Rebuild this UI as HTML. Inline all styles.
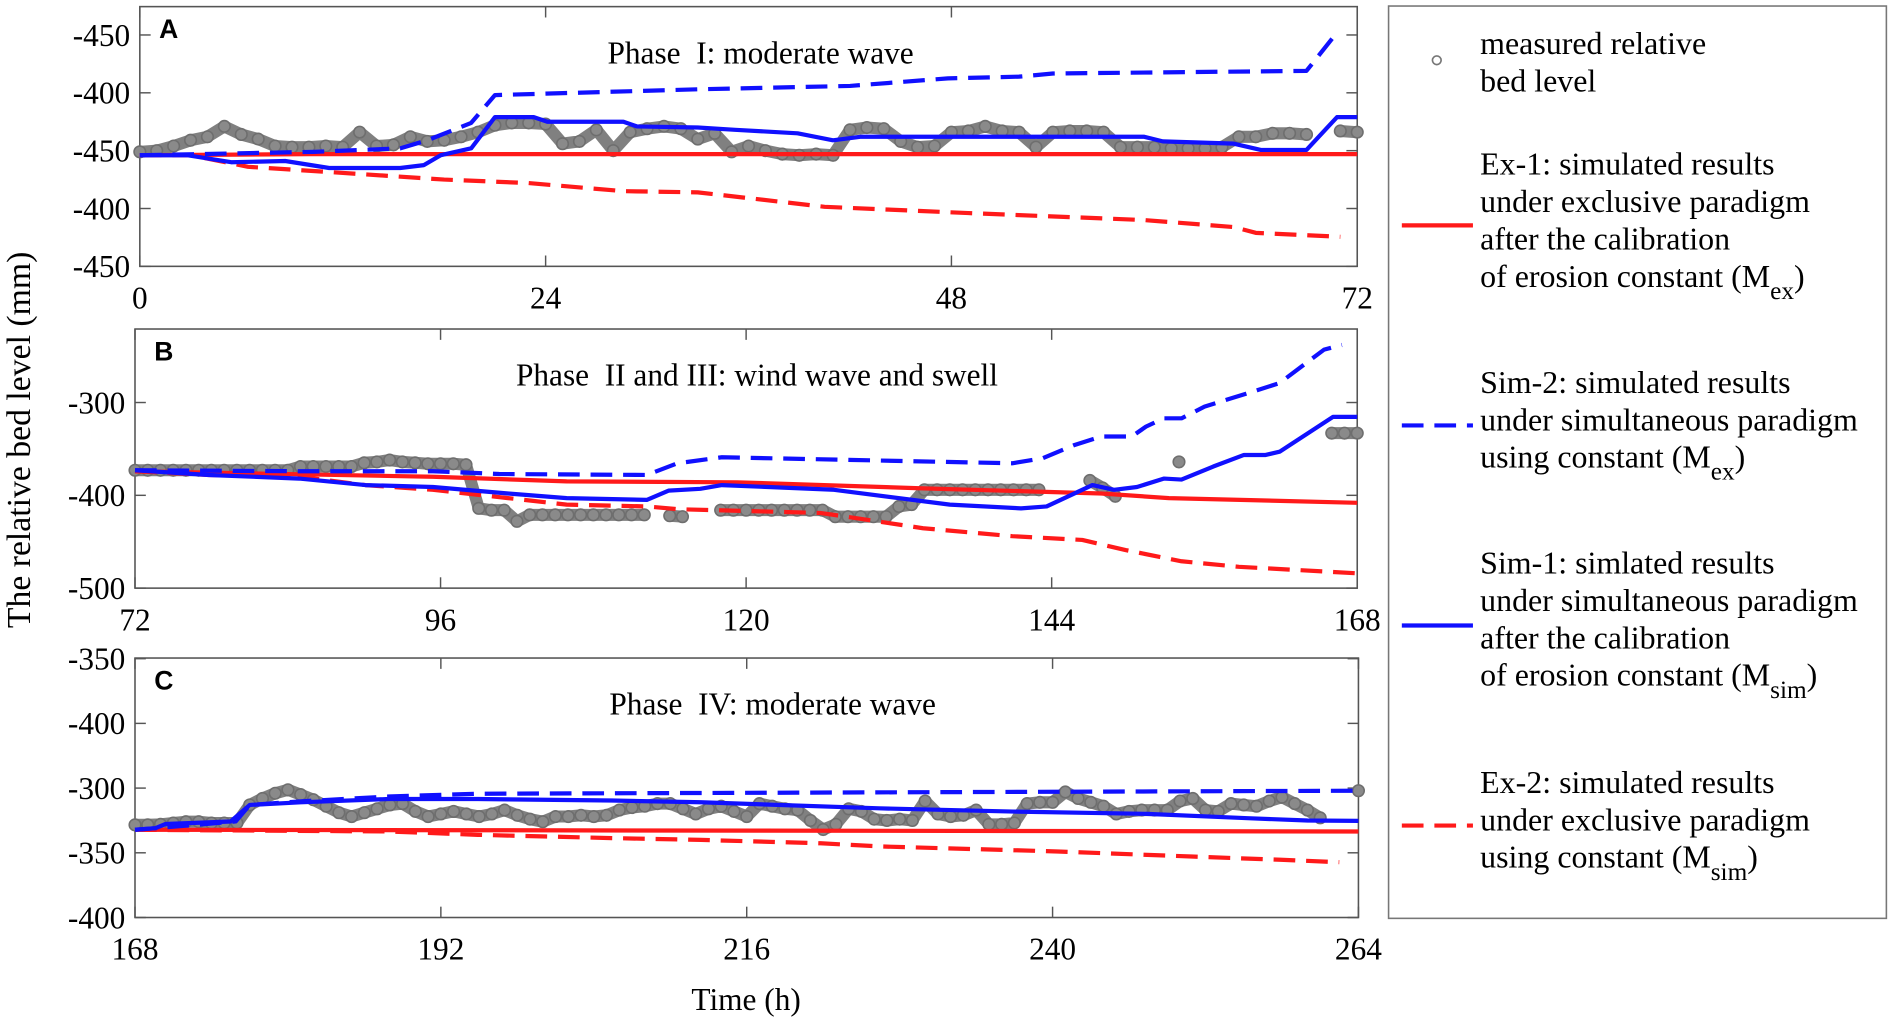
<!DOCTYPE html>
<html><head><meta charset="utf-8">
<style>
html,body{margin:0;padding:0;background:#fff;}
svg{display:block;font-family:"Liberation Serif",serif;}
</style></head>
<body>
<svg id="chart" xmlns="http://www.w3.org/2000/svg" width="1890" height="1022" viewBox="0 0 1568 848" preserveAspectRatio="none">
<text x="0" y="0" transform="translate(25,365) rotate(-90)" text-anchor="middle" font-size="28">The relative bed level (mm)</text>
<text x="619" y="838" text-anchor="middle" font-size="26">Time (h)</text>
<g font-size="26.5">
<rect x="1152" y="5" width="413" height="757" fill="#fff" stroke="#777" stroke-width="1.3"/>
<circle cx="1192" cy="50" r="3.6" fill="none" stroke="#777" stroke-width="1.4"/>
<text x="1228" y="45">measured relative</text>
<text x="1228" y="76">bed level</text>
<line x1="1163" y1="187" x2="1222" y2="187" stroke="#ff1a1a" stroke-width="3.5"/>
<text x="1228" y="145">Ex-1: simulated results</text>
<text x="1228" y="176">under exclusive paradigm</text>
<text x="1228" y="207">after the calibration</text>
<text x="1228" y="238">of erosion constant (M<tspan dy="10" font-size="21">ex</tspan><tspan dy="-10">)</tspan></text>
<line x1="1163" y1="353" x2="1222" y2="353" stroke="#1010ff" stroke-width="3.5" stroke-dasharray="18,9"/>
<text x="1228" y="326">Sim-2: simulated results</text>
<text x="1228" y="357">under simultaneous paradigm</text>
<text x="1228" y="388">using constant (M<tspan dy="10" font-size="21">ex</tspan><tspan dy="-10">)</tspan></text>
<line x1="1163" y1="519" x2="1222" y2="519" stroke="#1010ff" stroke-width="3.5"/>
<text x="1228" y="476">Sim-1: simlated results</text>
<text x="1228" y="507">under simultaneous paradigm</text>
<text x="1228" y="538">after the calibration</text>
<text x="1228" y="569">of erosion constant (M<tspan dy="10" font-size="21">sim</tspan><tspan dy="-10">)</tspan></text>
<line x1="1163" y1="685" x2="1222" y2="685" stroke="#ff1a1a" stroke-width="3.5" stroke-dasharray="18,9"/>
<text x="1228" y="658">Ex-2: simulated results</text>
<text x="1228" y="689">under exclusive paradigm</text>
<text x="1228" y="720">using constant (M<tspan dy="10" font-size="21">sim</tspan><tspan dy="-10">)</tspan></text>
</g>
</svg>
<script>
// ---------- Panel A data (relative units, tick labels garbled in source) ----------
const aXTicks = [0, 24, 48, 72];
const aYTicks = [0, 50, 100, 150, 200];
const aYTickLabels = ['-450', '-400', '-450', '-400', '-450'];
const aMeasuredV = [99,100,104,109,112,121,114,110,104,103,103,104,103,116,104,105,112,108,109,112,116,122,124,124,123,106,108,118,100,116,119,121,119,110,115,99,104,100,97,96,97,96,118,120,119,108,103,104,116,117,121,117,116,103,116,117,117,116,103,103,103,102,102,102,103,112,112,115,115,114,null,117,116];
const aRedSolidT = [0, 10, 72];
const aRedSolidV = [96, 97, 97];
const aRedDashT = [0,3,6.4,12.8,18,23,28.6,33,40.5,49,59.4,64.7,66,71];
const aRedDashV = [96,96,86,80,75,72,65,64,51.5,46,40,34,29,25.5];
const aBlueDashT = [0,10.3,15.4,17,19.6,21,33,42,47.8,52,54,69,70.6,71];
const aBlueDashV = [96,99,102,109,124,148,153,156,162.5,164,166.7,169,198.5,201];
const aBlueSolidT = [0,2.8,5.4,8.6,11.2,15.4,16.8,17.8,19.6,21,23.3,24.1,28.6,29.4,33,35.2,38.9,41,42.6,46.8,59.4,60.5,64.7,66.3,69,70.8,72];
const aBlueSolidV = [96,96,90,91,85,85,87.5,96,102,129,129,125,125,121,120,118,115,109,112,112,112,108,106,100.6,100.6,129,129];

// ---------- Panel B data (mm) ----------
const bXTicks = [72, 96, 120, 144, 168];
const bYTicks = [-300, -400, -500];
const bYTickLabels = ['-300', '-400', '-500'];
const bMeasuredV = [-373,-373,-373,-373,-373,-373,-373,-373,-373,-373,-373,-373,-373,
 -369,-369,-369,-369,-369, -365,-364,-362,-364,-365, -366,-366,-366,-367,
 -414,-416,-416,-428, -421,-421,-421,-421,-421,-421,-421,-421,-421,-421,
 null,-422,-423,null,null, -416,-416,-416,-416,-416,-416,-416,-416,-416,
 -423,-423,-423,-423,-423, -412,-410, -394,-394,-394,-394,-394,-394,-394,-394,-394,-394,
 null,null,null, -384,-392,-401, null,null,null,null, -364,
 null,null,null,null,null,null,null,null,null,null,null, -333,-333,-333];
const bRedSolidT = [72,95.4,105.9,119.3,133.9,147.9,153.2,168];
const bRedSolidV = [-374,-380,-385,-386,-392.5,-398,-403,-408];
const bBlueDashT = [72,84.9,95.4,100.6,112.2,114.6,118.1,140.9,143.3,145.8,147.9,150.3,151.4,152.8,154.2,156,160.2,161.9,165.4,166.8];
const bBlueDashV = [-373,-374,-374,-377,-378,-365.5,-359,-365.5,-360,-345.7,-336.7,-336.7,-326,-317,-317,-304.4,-286.5,-279,-243,-238];
const bBlueSolidT = [72,77.8,84.9,90.1,95.4,101.3,105.9,112.2,113.9,116.4,118.1,126.9,136,141.6,143.6,147.2,148.9,150.7,152.8,154.2,156.7,159.1,160.8,161.9,166.1,168];
const bBlueSolidV = [-373,-378,-382,-389,-391,-398,-403,-405,-395,-393,-389,-394,-410,-414,-412,-389,-394,-391,-382,-383,-369,-356.5,-356.5,-353,-315.5,-315.5];
const bRedDashT = [72,77.8,84.9,90.1,95.4,101.3,105.9,112.2,114.6,125.8,126.9,133.9,140.9,146.4,149.8,154.2,158.7,168];
const bRedDashV = [-374,-378,-380,-389,-394,-403,-410,-412,-415,-419,-421,-435.5,-444,-448,-459,-471,-477,-484];

// ---------- Panel C data (relative units) ----------
const cXTicks = [168, 192, 216, 240, 264];
const cYTicks = [0, 50, 100, 150, 200];
const cYTickLabels = ['-400', '-350', '-300', '-400', '-350'];
const cMeasuredV = [71.6,71.6,72,73,74,74,73,73,73,87,92,96,98.7,95,91,86,81,78,81,84,87,88,82,78,80,82,80,78,80,83,79,76,74,78,78,79,78,79,83,85,86,88,88,84,80,84,86,82,78,88,86,84,83,75,68,72,84,82,76,75,76,75,90,80,78,79,83,72,72,73,88,89,89,97,92,89,86,80,82,83,83,83,90,92,83,82,88,87,86,90,93,88,83,77,null,null,98];
const cRedSolidT = [168, 264];
const cRedSolidV = [67.8, 66.5];
const cRedDashT = [168,187.9,194.9,205.4,212.4,221.8,226.4,240.4,250.9,257.9,262.5];
const cRedDashV = [67.8,66.5,63.9,61.4,60,57.4,54.9,51,47.1,44.6,42.7];
const cBlueDashT = [168,169.6,175.9,177,180.9,187.9,194.9,264];
const cBlueDashV = [67.8,69,74.2,87,89.7,93.5,95.6,98];
const cBlueSolidT = [168,169.6,170.4,175.5,177,181,187.9,194.9,205.4,212.4,226.4,236.9,247.4,255.3,260,264];
const cBlueSolidV = [67.8,69,72.3,74.2,87,89,91.5,91.5,90.4,89,84.4,81.9,80.1,76.7,75,74.7];

const NS = 'http://www.w3.org/2000/svg';
const svg = document.getElementById('chart');
const RED = '#ff1a1a', BLUE = '#1010ff', GRAY = '#808080';

function mk(tag, attrs, parent) {
  const e = document.createElementNS(NS, tag);
  for (const k in attrs) e.setAttribute(k, attrs[k]);
  parent.appendChild(e);
  return e;
}

function drawPanel(p) {
  const g = mk('g', {}, svg);
  
  
  const sx = t => p.x0 + (t - p.tMin) / (p.tMax - p.tMin) * (p.x1 - p.x0);
  const sy = v => p.y1 - (v - p.vMin) / (p.vMax - p.vMin) * (p.y1 - p.y0);

  const box = mk('rect', {x: p.x0, y: p.y0, width: p.x1 - p.x0, height: p.y1 - p.y0, fill: '#fff', stroke: '#555', 'stroke-width': 1.3}, g);
  
  

  p.xTicks.forEach(t => {
    const x = sx(t);
    mk('line', {x1: x, y1: p.y1, x2: x, y2: p.y1 - 9, stroke: '#555', 'stroke-width': 1.2}, g);
    mk('line', {x1: x, y1: p.y0, x2: x, y2: p.y0 + 9, stroke: '#555', 'stroke-width': 1.2}, g);
    const tx = mk('text', {x: x, y: p.y1 + 35, 'text-anchor': 'middle', 'font-size': 26}, g);
    
    
    tx.textContent = String(t);
  });
  p.yTicks.forEach((v, i) => {
    const y = sy(v);
    mk('line', {x1: p.x0, y1: y, x2: p.x0 + 9, y2: y, stroke: '#555', 'stroke-width': 1.2}, g);
    mk('line', {x1: p.x1, y1: y, x2: p.x1 - 9, y2: y, stroke: '#555', 'stroke-width': 1.2}, g);
    const ty = mk('text', {x: p.x0 - 8, y: y + 9, 'text-anchor': 'end', 'font-size': 26}, g);
    
    
    ty.textContent = p.yLabels[i];
  });

  const mg = mk('g', {}, g);
  
  
  let seg = [];
  const flush = () => {
    if (seg.length > 1) mk('polyline', {points: seg.join(' '), fill: 'none', stroke: GRAY, 'stroke-width': 10, 'stroke-linejoin': 'round', 'stroke-linecap': 'round'}, mg);
    seg = [];
  };
  p.measured.forEach((v, i) => {
    if (v === null) { flush(); return; }
    seg.push(sx(p.tMin + i).toFixed(1) + ',' + sy(v).toFixed(1));
  });
  flush();
  p.measured.forEach((v, i) => {
    if (v === null) return;
    const c = mk('circle', {cx: sx(p.tMin + i), cy: sy(v), r: 4.8, fill: '#8a8a8a', stroke: '#6e6e6e', 'stroke-width': 1.3}, mg);
    
    
  });

  p.lines.forEach(L => {
    const pts = L.t.map((t, i) => sx(t).toFixed(1) + ',' + sy(L.v[i]).toFixed(1)).join(' ');
    const pl = mk('polyline', {points: pts, fill: 'none', stroke: L.color, 'stroke-width': 3.5, 'stroke-linejoin': 'round'}, g);
    if (L.dash) pl.setAttribute('stroke-dasharray', '18,9');
    
    
  });

  const lt = mk('text', {x: p.x0 + 16, y: p.y0 + 26, 'font-size': 22, 'font-weight': 'bold', 'font-family': '"Liberation Sans",sans-serif'}, g);
  
  
  lt.textContent = p.letter;
  const tt = mk('text', {x: p.titleX, y: p.y0 + 47, 'text-anchor': 'middle', 'font-size': 26}, g);
  
  
  tt.textContent = p.title;
}

drawPanel({id: 'a', letter: 'A', title: 'Phase\u00a0\u00a0I: moderate wave', titleX: 631,
  x0: 116, x1: 1126, y0: 5.5, y1: 221, tMin: 0, tMax: 72, vMin: 0, vMax: 224.5,
  xTicks: aXTicks, yTicks: aYTicks, yLabels: aYTickLabels, measured: aMeasuredV,
  lines: [
    {name: 'ex1-line', t: aRedSolidT, v: aRedSolidV, color: RED, dash: false},
    {name: 'ex2-line', t: aRedDashT, v: aRedDashV, color: RED, dash: true},
    {name: 'sim2-line', t: aBlueDashT, v: aBlueDashV, color: BLUE, dash: true},
    {name: 'sim1-line', t: aBlueSolidT, v: aBlueSolidV, color: BLUE, dash: false}]});

drawPanel({id: 'b', letter: 'B', title: 'Phase\u00a0\u00a0II and III: wind wave and swell', titleX: 628,
  x0: 112, x1: 1126, y0: 273, y1: 488, tMin: 72, tMax: 168, vMin: -500, vMax: -220.8,
  xTicks: bXTicks, yTicks: bYTicks, yLabels: bYTickLabels, measured: bMeasuredV,
  lines: [
    {name: 'ex1-line', t: bRedSolidT, v: bRedSolidV, color: RED, dash: false},
    {name: 'ex2-line', t: bRedDashT, v: bRedDashV, color: RED, dash: true},
    {name: 'sim2-line', t: bBlueDashT, v: bBlueDashV, color: BLUE, dash: true},
    {name: 'sim1-line', t: bBlueSolidT, v: bBlueSolidV, color: BLUE, dash: false}]});

drawPanel({id: 'c', letter: 'C', title: 'Phase\u00a0\u00a0IV: moderate wave', titleX: 641,
  x0: 112, x1: 1127, y0: 546, y1: 761.3, tMin: 168, tMax: 264, vMin: 0, vMax: 200.5,
  xTicks: cXTicks, yTicks: cYTicks, yLabels: cYTickLabels, measured: cMeasuredV,
  lines: [
    {name: 'ex1-line', t: cRedSolidT, v: cRedSolidV, color: RED, dash: false},
    {name: 'ex2-line', t: cRedDashT, v: cRedDashV, color: RED, dash: true},
    {name: 'sim2-line', t: cBlueDashT, v: cBlueDashV, color: BLUE, dash: true},
    {name: 'sim1-line', t: cBlueSolidT, v: cBlueSolidV, color: BLUE, dash: false}]});
</script>
</body></html>
